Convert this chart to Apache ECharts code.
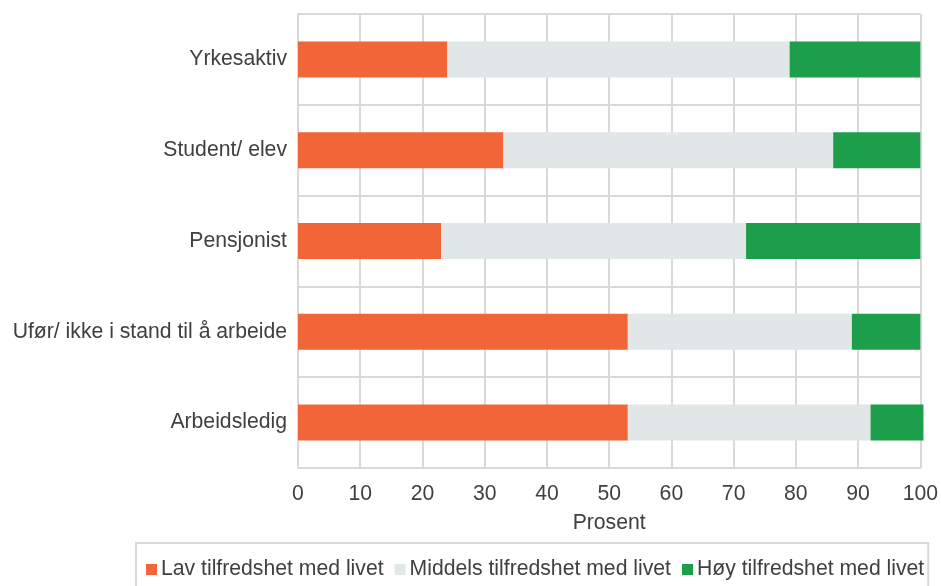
<!DOCTYPE html>
<html>
<head>
<meta charset="utf-8">
<script src="https://cdn.jsdelivr.net/npm/echarts@6/dist/echarts.min.js"></script>
<style>
  html, body { margin: 0; padding: 0; background: #fff; }
  #chart { width: 941px; height: 586px; }
</style>
</head>
<body>
<div id="chart"></div>
<script>
let categories = ['Yrkesaktiv', 'Student/ elev', 'Pensjonist', 'Ufør/ ikke i stand til å arbeide', 'Arbeidsledig'];
let lav = [24, 33, 23, 53, 53];
let middels = [55, 53, 49, 36, 39];
let hoy = [21, 14, 28, 11, 8.5];
let ticks = [0, 10, 20, 30, 40, 50, 60, 70, 80, 90, 100];

let font = 'Liberation Sans, Arial, sans-serif';
let textColor = '#404040';
let gridColor = '#d9d9d9';

let chart = echarts.init(document.getElementById('chart'));

function barSeries(name, data, color) {
  return {
    name: name,
    type: 'bar',
    stack: 'total',
    data: data,
    barWidth: 36,
    clip: false,
    itemStyle: { color: color },
    emphasis: { disabled: true }
  };
}

let option = {
  animation: false,
  textStyle: { fontFamily: font },
  grid: { left: 298, right: 20, top: 14, bottom: 118, containLabel: false },
  legend: {
    left: 136,
    top: 543,
    padding: [16, 4, 30, 10],
    borderColor: gridColor,
    borderWidth: 2,
    icon: 'rect',
    itemWidth: 11,
    itemHeight: 11,
    itemGap: 11,
    textStyle: { fontSize: 21.2, color: textColor, fontFamily: font, padding: [0, 0, 0, -1] },
    data: ['Lav tilfredshet med livet', 'Middels tilfredshet med livet', 'Høy tilfredshet med livet']
  },
  xAxis: {
    type: 'value',
    min: ticks[0],
    max: ticks[ticks.length - 1],
    interval: 10,
    name: 'Prosent',
    nameLocation: 'middle',
    nameGap: 45,
    nameTextStyle: { fontSize: 21.2, color: textColor, fontFamily: font },
    axisLine: { show: true, lineStyle: { color: gridColor, width: 2 } },
    axisTick: { show: false },
    axisLabel: { fontSize: 21.2, color: textColor, fontFamily: font, margin: 16 },
    splitLine: { show: true, lineStyle: { color: gridColor, width: 2 } }
  },
  yAxis: {
    type: 'category',
    inverse: true,
    data: categories,
    axisLine: { show: true, lineStyle: { color: gridColor, width: 2 } },
    axisTick: { show: false },
    axisLabel: { fontSize: 21.2, color: textColor, fontFamily: font, margin: 11 },
    splitLine: { show: true, lineStyle: { color: gridColor, width: 2 } }
  },
  series: [
    barSeries('Lav tilfredshet med livet', lav, '#F26539'),
    barSeries('Middels tilfredshet med livet', middels, '#E1E6E6'),
    barSeries('Høy tilfredshet med livet', hoy, '#1D9E4A')
  ]
};

chart.setOption(option);
</script>
</body>
</html>
